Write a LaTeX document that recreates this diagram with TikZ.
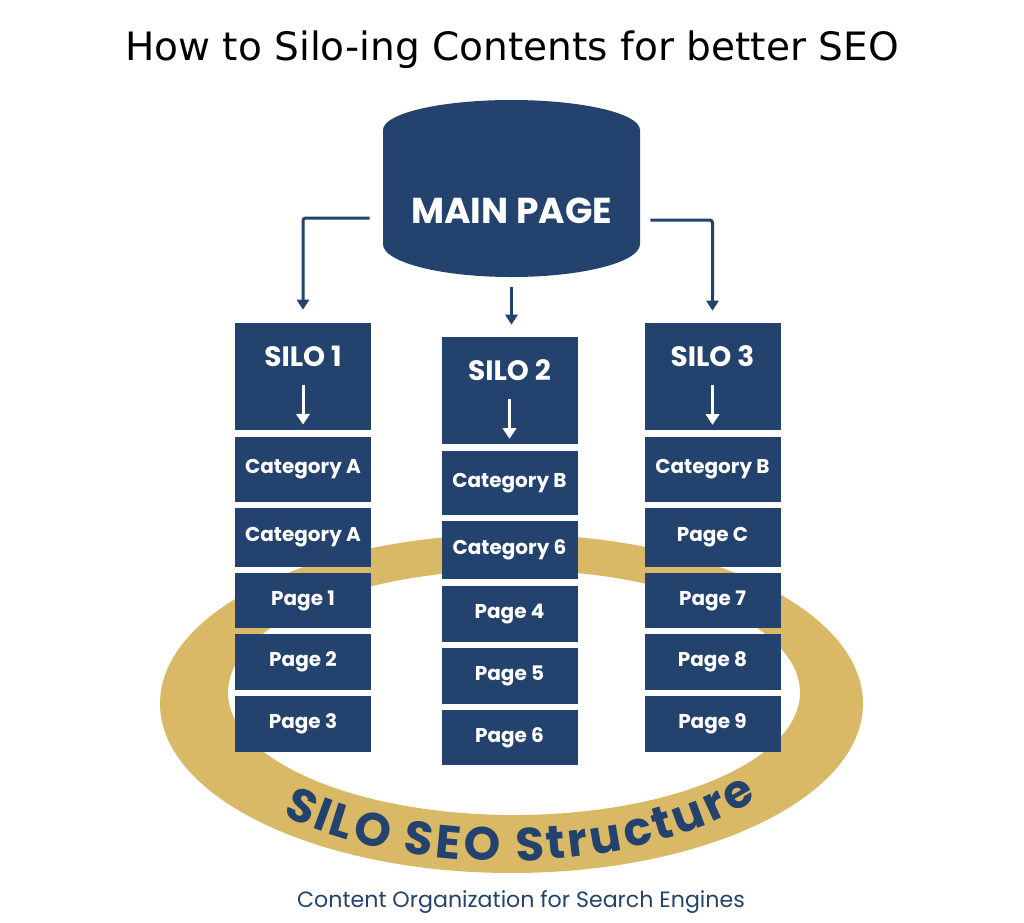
\documentclass[tikz,border=0pt]{standalone}
\usepackage{fontspec}
\setmainfont{DejaVu Sans}
\setsansfont{Poppins}
\usetikzlibrary{arrows.meta,decorations.text}
\definecolor{navy}{RGB}{35,66,110}
\definecolor{gold}{RGB}{217,185,101}
\newcommand\ringfont{\sffamily\bfseries\fontsize{35}{37}\selectfont}

\tikzset{
  silobox/.style={fill=navy, minimum width=102pt, minimum height=80.25pt, inner sep=0pt},
  silotext/.style={text=white, inner sep=0pt, font=\sffamily\bfseries\fontsize{21}{23}\selectfont},
  cellbox/.style={fill=navy, text=white, minimum width=102pt, inner sep=0pt, font=\sffamily\bfseries\fontsize{15}{17}\selectfont},
  link/.style={draw=navy, line width=2.25pt, rounded corners=2pt, -{Triangle[length=7.5pt,width=9pt]}},
  inarrow/.style={draw=white, line width=2.25pt, -{Triangle[length=8pt,width=10pt]}},
}

\begin{document}
\begin{tikzpicture}[x=0.75pt,y=0.75pt,yscale=-1,xscale=1]
\useasboundingbox (0,0) rectangle (1024,922);

% Title
\node [font=\fontsize{29.3}{33}\selectfont] (title) at (512,50) {How to Silo-ing Contents for better SEO};

%Shape: Ring
\fill [gold, even odd rule] (511.5,703.6) ellipse [x radius=351.5, y radius=169.4] (514,692.5) ellipse [x radius=286, y radius=122.5];
% ring text
\path [decorate, decoration={text effects along path, text={SILO SEO Structure},
    text effects/.cd, text along path, fit text to path, characters={text=navy, font=\ringfont}}]
  (283,815.3) arc [start angle=133.3, end angle=38.9, x radius=324, y radius=168];

%Shape: Cylinder
\fill [navy] (383,130) arc [start angle=180, end angle=360, x radius=128.5, y radius=30] -- (640,244)
  arc [start angle=0, end angle=180, x radius=128.5, y radius=33] -- cycle;
\node [text=white, minimum width=192.75pt, minimum height=99pt, font=\sffamily\bfseries\fontsize{27}{30}\selectfont] (main) at (511.5,211) {MAIN PAGE};

% Silo 1
\node [silobox] (s1) at (303,376.5) {};
\node [silotext] (s1t) at (303,356) {SILO 1};
\node [cellbox, minimum height=48.75pt] (c1a) at (303,469.5) {Category A};
\node [cellbox, minimum height=44.25pt] (c1b) at (303,537.5) {Category A};
\node [cellbox, minimum height=41.25pt] (c1c) at (303,600.5) {Page 1};
\node [cellbox, minimum height=42pt] (c1d) at (303,662) {Page 2};
\node [cellbox, minimum height=42pt] (c1e) at (303,724) {Page 3};

% Silo 2
\node [silobox] (s2) at (509.5,390.5) {};
\node [silotext] (s2t) at (509.5,370) {SILO 2};
\node [cellbox, minimum height=48pt] (c2a) at (509.5,483) {Category B};
\node [cellbox, minimum height=43.5pt] (c2b) at (509.5,550) {Category 6};
\node [cellbox, minimum height=42pt] (c2c) at (509.5,614) {Page 4};
\node [cellbox, minimum height=42pt] (c2d) at (509.5,676) {Page 5};
\node [cellbox, minimum height=41.25pt] (c2e) at (509.5,737.5) {Page 6};

% Silo 3
\node [silobox] (s3) at (712.5,376.5) {};
\node [silotext] (s3t) at (712.5,356) {SILO 3};
\node [cellbox, minimum height=48.75pt] (c3a) at (712.5,469.5) {Category B};
\node [cellbox, minimum height=44.25pt] (c3b) at (712.5,537.5) {Page C};
\node [cellbox, minimum height=41.25pt] (c3c) at (712.5,600.5) {Page 7};
\node [cellbox, minimum height=42pt] (c3d) at (712.5,662) {Page 8};
\node [cellbox, minimum height=42pt] (c3e) at (712.5,724) {Page 9};

% arrows inside silos
\draw [inarrow] (s1t.south) ++(0,18) -- ++(0,40);
\draw [inarrow] (s2t.south) ++(0,18) -- ++(0,40);
\draw [inarrow] (s3t.south) ++(0,18) -- ++(0,40);

% links from main page
\draw [link, shorten >=9.75pt] (main.west) ++(-13,7) -| (s1.north);
\draw [link, shorten >=9pt] (main.east) ++(10,9) -| (s3.north);
\draw [link, shorten <=7.5pt, shorten >=9pt] (main.south) -- (main.south |- s2.north);

% Subtitle
\node [text=navy, font=\sffamily\fontsize{16.6}{19}\selectfont] (sub) at (521,902) {Content Organization for Search Engines};
\end{tikzpicture}
\end{document}
